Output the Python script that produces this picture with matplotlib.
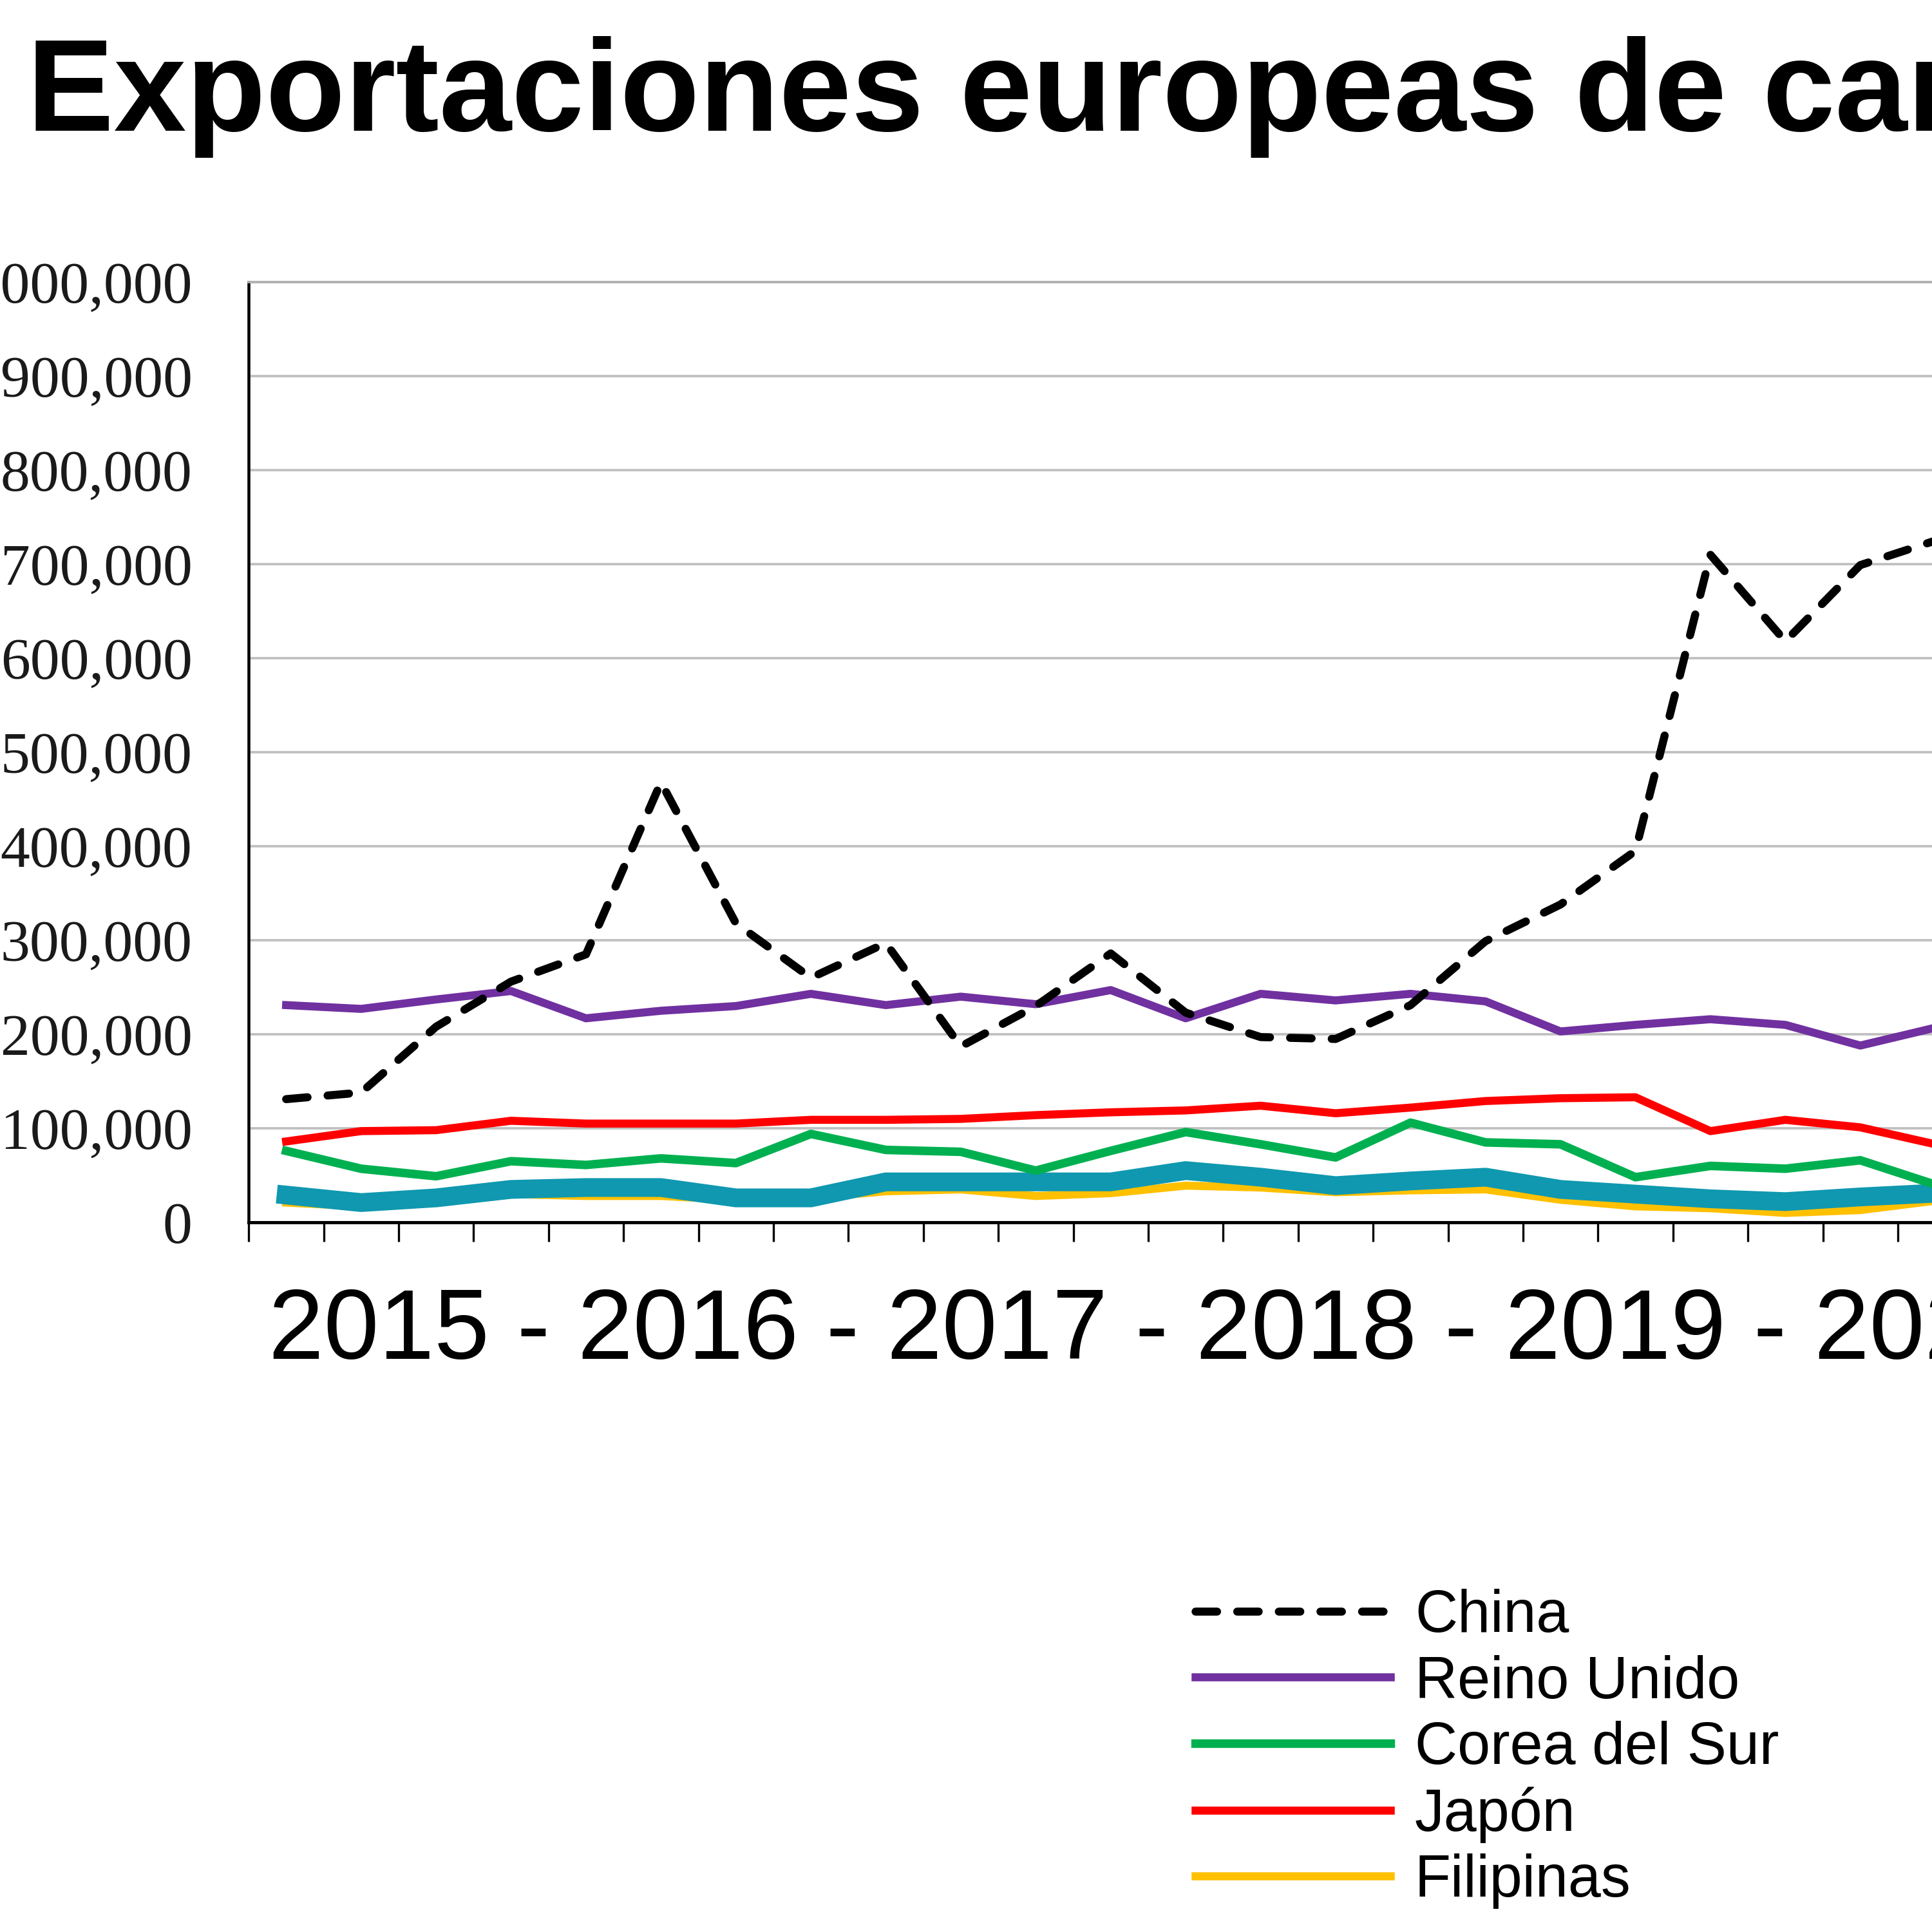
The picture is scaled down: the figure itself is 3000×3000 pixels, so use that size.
import matplotlib.pyplot as plt
from matplotlib.ticker import FuncFormatter, MultipleLocator
import numpy as np

# Quarterly exports (x 1000)
quarters = np.arange(23)

china = [131, 138, 208, 256, 285, 468, 318, 260, 297, 187, 230, 286,
         223, 197, 195, 231, 299, 338, 395, 710, 618, 699, 725]
reino_unido = [231, 227, 237, 246, 217, 225, 230, 243, 231, 240, 232, 247,
               217, 243, 236, 243, 235, 203, 210, 216, 210, 188, 207]
corea_del_sur = [76, 57, 49, 65, 61, 68, 63, 94, 77, 75, 55, 76,
                 96, 83, 69, 106, 85, 83, 48, 60, 57, 66, 40]
japon = [86, 97, 98, 108, 105, 105, 105, 109, 109, 110, 114, 117,
         119, 124, 116, 122, 129, 132, 133, 97, 109, 101, 83]
filipinas = [21, 17, 22, 30, 28, 28, 24, 26, 33, 35, 28, 31,
             39, 37, 32, 34, 35, 24, 17, 15, 10, 13, 23]
otro_pais = [29, 21, 26, 35, 37, 37, 26, 26, 43, 43, 43, 43,
             55, 48, 39, 44, 48, 35, 30, 25, 22, 27, 31]

title = 'Exportaciones europeas de carne de cerdo'
years_label = '2015 - 2016 - 2017 - 2018 - 2019 - 2020'


def k(vals):
    return np.array(vals) * 1000


fig = plt.figure(figsize=(10, 10), dpi=300)
ax = fig.add_axes([0.1287, 0.36733, 1.0088, 0.48667])

ax.plot(quarters, k(filipinas), color='#ffc000', lw=3.0, label='Filipinas', zorder=3)
ax.plot(quarters, k(otro_pais), color='#0f98b0', lw=7.0, zorder=4)
ax.plot(quarters, k(japon), color='#ff0000', lw=3.0, label='Japón', zorder=3)
ax.plot(quarters, k(corea_del_sur), color='#00b050', lw=3.2, label='Corea del Sur', zorder=5)
ax.plot(quarters, k(reino_unido), color='#7030a0', lw=3.0, label='Reino Unido', zorder=3)
ax.plot(quarters, k(china), color='black', lw=3.0, ls=(0, (2.67, 2.5)),
        dash_capstyle='round', label='China', zorder=6)

ax.set_xlim(-0.5, 25.5)
ax.set_ylim(0, 1000000)
ax.yaxis.set_major_locator(MultipleLocator(100000))
ax.yaxis.set_major_formatter(FuncFormatter(lambda v, p: f'{int(v):,}'))
ax.xaxis.set_major_locator(MultipleLocator(1, offset=0.5))
ax.set_xticklabels([])
ax.tick_params(axis='x', direction='out', length=7.2, width=0.8, color='black')
ax.tick_params(axis='y', length=0, pad=21, labelsize=22, labelcolor='#1a1a1a')
for lbl in ax.get_yticklabels():
    lbl.set_family('Liberation Serif')

ax.grid(axis='y', color='#c0c0c0', lw=0.9)
ax.set_axisbelow(True)
ax.spines['top'].set_color('#b0b0b0')
ax.spines['top'].set_linewidth(0.9)
ax.spines['right'].set_visible(False)
ax.spines['left'].set_linewidth(1.1)
ax.spines['bottom'].set_linewidth(1.2)

fig.text(0.014, 1 - 203 / 3000, title, fontsize=48.5, fontweight='bold',
         family='Liberation Sans', ha='left', va='baseline')
fig.text(0.139, 1 - 2110 / 3000, years_label, fontsize=37,
         family='Liberation Sans', ha='left', va='baseline')

handles, labels = ax.get_legend_handles_labels()
order = ['China', 'Reino Unido', 'Corea del Sur', 'Japón', 'Filipinas']
hmap = dict(zip(labels, handles))
fig.legend([hmap[o] for o in order], order, loc='upper left',
           bbox_to_anchor=(1856 / 3000, 1 - 2467 / 3000),
           frameon=False, borderpad=0, borderaxespad=0,
           handlelength=3.3, handletextpad=0.42, labelspacing=0.18,
           prop={'family': 'Liberation Sans', 'size': 22})

fig.savefig('out.png', dpi=300)
